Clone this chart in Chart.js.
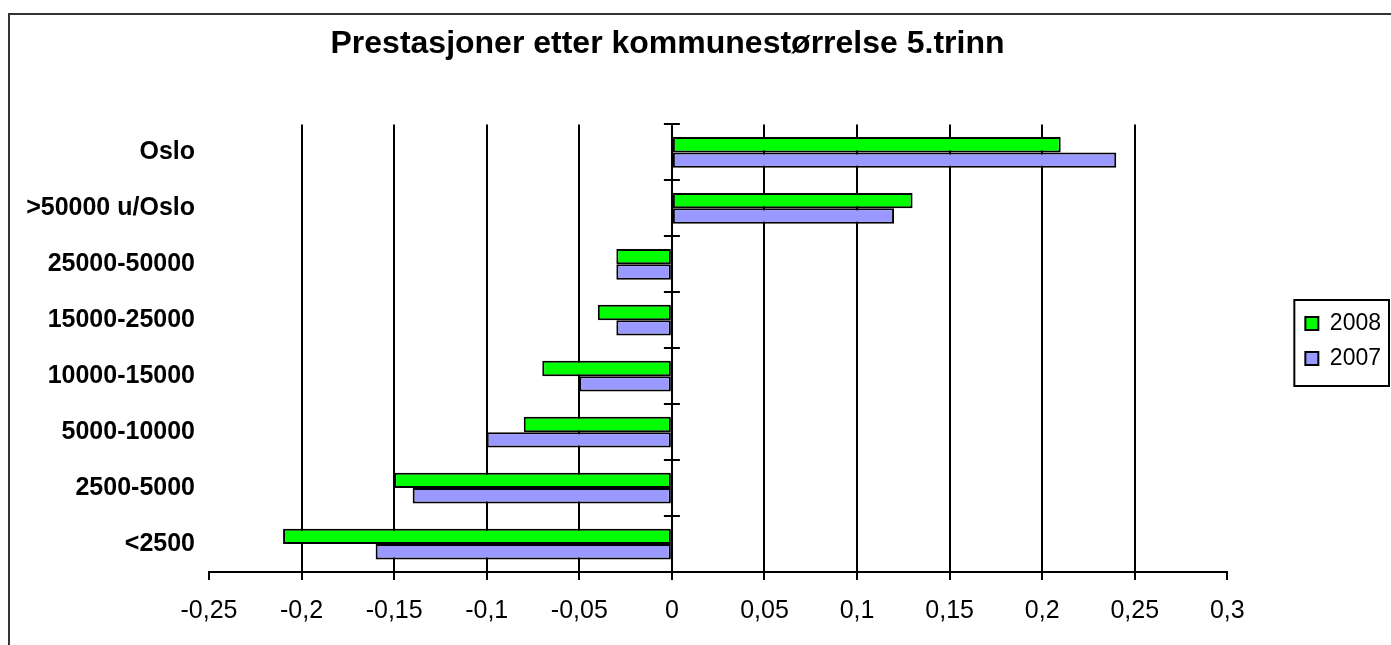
<!DOCTYPE html>
<html>
<head>
<meta charset="utf-8">
<script src="https://cdn.jsdelivr.net/npm/chart.js@4/dist/chart.umd.min.js"></script>
<style>
  html, body { margin: 0; padding: 0; background: #fff; }
  #wrap { position: relative; width: 1391px; height: 645px; overflow: hidden; background: #fff; }
  #frame { position: absolute; left: 8px; top: 13px; width: 1420px; height: 700px; border: 2px solid #333; box-sizing: border-box; }
  canvas { position: absolute; left: 0; top: 0; }
</style>
</head>
<body>
<div id="wrap">
  <div id="frame"></div>
  <canvas id="c" width="1391" height="645"></canvas>
</div>
<script>
// ---- data ----
const chartTitle = 'Prestasjoner etter kommunestørrelse 5.trinn';
const categories = ['Oslo', '>50000 u/Oslo', '25000-50000', '15000-25000', '10000-15000', '5000-10000', '2500-5000', '<2500'];
const seriesNames = ['2008', '2007'];
const values2008 = [0.21, 0.13, -0.03, -0.04, -0.07, -0.08, -0.15, -0.21];
const values2007 = [0.24, 0.12, -0.03, -0.03, -0.05, -0.10, -0.14, -0.16];
const xTickValues = [-0.25, -0.2, -0.15, -0.1, -0.05, 0, 0.05, 0.1, 0.15, 0.2, 0.25, 0.3];
const xTickLabels = ['-0,25', '-0,2', '-0,15', '-0,1', '-0,05', '0', '0,05', '0,1', '0,15', '0,2', '0,25', '0,3'];

const FONT = "'Liberation Sans', Arial, sans-serif";

const decor = {
  id: 'decor',
  afterLayout(chart) {
    const lg = chart.legend;
    if (!lg) return;
    const dx = chart.width - lg.right;
    lg.left += dx; lg.right += dx;
    lg.top += 20; lg.bottom += 20;
  },
  afterDraw(chart) {
    const ctx = chart.ctx;
    const xs = chart.scales.x, ys = chart.scales.y;
    // category tick marks across the zero line
    const x0 = xs.getPixelForValue(0);
    const n = categories.length;
    const step = (ys.bottom - ys.top) / n;
    ctx.save();
    ctx.strokeStyle = '#000';
    ctx.lineWidth = 2;
    ctx.beginPath();
    for (let k = 0; k < n; k++) {
      const y = Math.round(ys.top + k * step);
      ctx.moveTo(x0 - 8, y);
      ctx.lineTo(x0 + 8, y);
    }
    ctx.stroke();
    // legend frame
    const lg = chart.legend;
    if (lg) {
      const pad = lg.options.labels.padding;
      const colH = (lg.columnSizes && lg.columnSizes[0]) ? lg.columnSizes[0].height : 70;
      const rowStart = (lg.top + pad + lg.bottom - colH) / 2;
      ctx.strokeStyle = '#000';
      ctx.lineWidth = 2;
      ctx.strokeRect(lg.left + 1, rowStart - 12, chart.width - 2 - (lg.left + 1), 86);
    }
    ctx.restore();
  }
};

new Chart(document.getElementById('c'), {
  type: 'bar',
  data: {
    labels: categories,
    datasets: [
      { label: seriesNames[0], data: values2008, backgroundColor: '#00FF00', borderColor: '#000', borderWidth: 2, borderSkipped: false, categoryPercentage: 0.55, barPercentage: 1.0 },
      { label: seriesNames[1], data: values2007, backgroundColor: '#9999FF', borderColor: '#000', borderWidth: 2, borderSkipped: false, categoryPercentage: 0.55, barPercentage: 1.0 }
    ]
  },
  options: {
    indexAxis: 'y',
    responsive: false,
    animation: false,
    devicePixelRatio: 1,
    layout: { padding: { left: 10, right: 66, top: 0, bottom: 3 } },
    plugins: {
      title: {
        display: true,
        text: chartTitle,
        color: '#000',
        font: { family: FONT, size: 32, weight: 'bold' },
        padding: { top: 25, bottom: 61 }
      },
      legend: {
        position: 'right',
        labels: {
          color: '#000',
          font: { family: FONT, size: 23 },
          boxWidth: 13,
          boxHeight: 13,
          padding: 12
        }
      },
      tooltip: { enabled: false }
    },
    scales: {
      x: {
        type: 'linear',
        min: xTickValues[0],
        max: xTickValues[xTickValues.length - 1],
        afterBuildTicks(scale) { scale.ticks = xTickValues.map(v => ({ value: v })); },
        grid: {
          color: (c) => (c.index === 0 || c.index === xTickValues.length - 1) ? 'rgba(0,0,0,0)' : '#000',
          tickColor: '#000',
          lineWidth: 2,
          tickLength: 8,
          drawTicks: true
        },
        border: { display: true, color: '#000', width: 2 },
        ticks: {
          color: '#000',
          font: { family: FONT, size: 25 },
          padding: 16,
          autoSkip: false,
          maxRotation: 0,
          callback: (v, i) => xTickLabels[i]
        }
      },
      y: {
        type: 'category',
        afterFit(scale) { scale.width = 199; },
        grid: { display: false, drawTicks: false },
        border: { display: false },
        ticks: {
          color: '#000',
          font: { family: FONT, size: 25, weight: 'bold' },
          padding: 14,
          autoSkip: false
        }
      }
    }
  },
  plugins: [decor]
});
</script>
</body>
</html>
